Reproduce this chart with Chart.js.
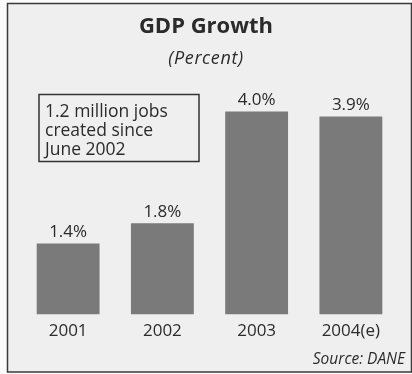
<!DOCTYPE html>
<html>
<head>
<meta charset="utf-8">
<script src="https://cdn.jsdelivr.net/npm/chart.js@4/dist/chart.umd.min.js"></script>
<style>
  html, body { margin: 0; padding: 0; background: #ffffff; }
  #wrap { width: 412px; height: 374px; position: relative; }
</style>
</head>
<body>
<div id="wrap"><canvas id="c" width="412" height="374"></canvas></div>
<script>
// GDP growth by year, percent
const years = ['2001', '2002', '2003', '2004(e)'];
const growth = [1.4, 1.8, 4.0, 3.9];
const titleText = 'GDP Growth';
const subtitleText = '(Percent)';
const noteLines = ['1.2 million jobs', 'created since', 'June 2002'];
const sourceText = 'Source: DANE';

const FONT = '"Open Sans", "DejaVu Sans", sans-serif';
const INK = '#2b2b2b';

// Panel background, frame, headings, note box and source line
const panelPlugin = {
  id: 'panel',
  beforeDraw(chart) {
    const ctx = chart.ctx;
    ctx.save();
    ctx.fillStyle = '#fbfbfb';
    ctx.fillRect(0, 0, chart.width, chart.height);
    ctx.fillStyle = '#efefef';
    ctx.fillRect(7, 3, 404, 369);
    ctx.strokeStyle = '#3a3a3a';
    ctx.lineWidth = 1.5;
    ctx.strokeRect(7.5, 3.5, 404, 368.5);
    ctx.restore();
  },
  afterDraw(chart) {
    const ctx = chart.ctx;
    ctx.save();
    ctx.fillStyle = INK;
    ctx.textAlign = 'center';
    ctx.textBaseline = 'middle';
    ctx.font = 'bold 22px ' + FONT;
    ctx.fillText(titleText, 206, 27);
    ctx.font = 'italic 18px ' + FONT;
    ctx.letterSpacing = '0.6px';
    ctx.fillText(subtitleText, 206, 59);
    ctx.letterSpacing = '0px';

    // note box
    ctx.strokeStyle = '#333333';
    ctx.lineWidth = 1.5;
    ctx.strokeRect(39, 94.5, 160, 67);
    ctx.textAlign = 'left';
    ctx.font = '17.5px ' + FONT;
    noteLines.forEach((t, i) => ctx.fillText(t, 45, 112 + i * 19));

    ctx.textAlign = 'right';
    ctx.font = 'italic 15.5px ' + FONT;
    ctx.fillText(sourceText, 405, 360);
    ctx.restore();
  }
};

// Value labels above each bar
const valueLabels = {
  id: 'valueLabels',
  afterDatasetsDraw(chart) {
    const ctx = chart.ctx;
    const meta = chart.getDatasetMeta(0);
    ctx.save();
    ctx.fillStyle = INK;
    ctx.font = '17px ' + FONT;
    ctx.textAlign = 'center';
    ctx.textBaseline = 'middle';
    meta.data.forEach((bar, i) => {
      ctx.fillText(growth[i].toFixed(1) + '%', bar.x, bar.y - 11);
    });
    ctx.restore();
  }
};

new Chart(document.getElementById('c'), {
  type: 'bar',
  data: {
    labels: years,
    datasets: [{
      data: growth,
      backgroundColor: '#7a7a7a',
      borderWidth: 0,
      barPercentage: 0.667,
      categoryPercentage: 1.0
    }]
  },
  options: {
    responsive: false,
    animation: false,
    devicePixelRatio: 1,
    layout: { padding: { left: 21, right: 14, top: 81, bottom: 27 } },
    plugins: {
      legend: { display: false },
      tooltip: { enabled: false },
      title: { display: false }
    },
    scales: {
      x: {
        grid: { display: false, drawTicks: false },
        border: { display: false },
        ticks: { color: INK, font: { family: FONT, size: 17 }, padding: 6, maxRotation: 0 }
      },
      y: {
        display: false,
        min: 0,
        max: 4.6
      }
    }
  },
  plugins: [panelPlugin, valueLabels]
});
</script>
</body>
</html>
